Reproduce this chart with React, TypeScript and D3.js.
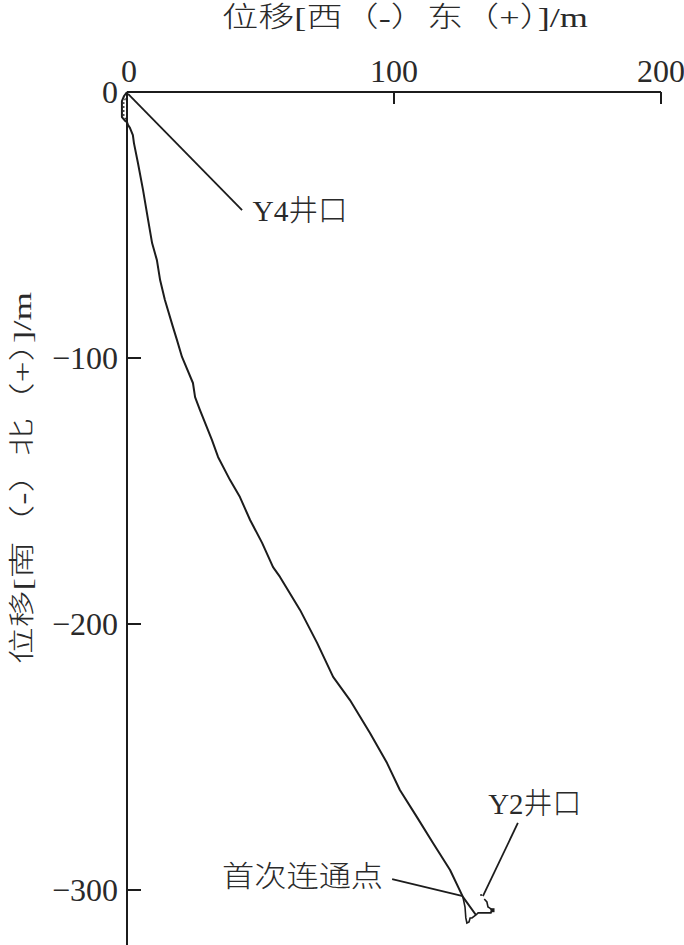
import React from 'react';
import * as d3 from 'd3';

// ---- data (E, N) in metres ----
const xTicks = [0, 100, 200];
const yTicks = [0, -100, -200, -300];

const mainTrack: [number, number][] = [
  [0, 0], [-1.1, -1.5], [-1.9, -3.4], [-1.9, -9.4], [-0.7, -10.9], [0, -11.3], [0.4, -12.4],
  [1.1, -13.5], [2.2, -16.2], [2.6, -19.2], [4.1, -26.7], [6.0, -36.8], [7.9, -48.1],
  [9.4, -56.8], [11.2, -63.2], [12.4, -70.7], [14.2, -78.2], [17.2, -88.3], [18.7, -93.2],
  [20.6, -99.6], [24.7, -109.4], [25.5, -114.7], [27.3, -119.5], [31.8, -130.8], [34.1, -137.2],
  [38.6, -145.9], [42.3, -152.3], [46.1, -160.9], [50.6, -169.5], [54.7, -178.6], [57.3, -182.3],
  [64.8, -194.7], [71.2, -207.1], [77.2, -219.9], [83.5, -228.6], [91.0, -241.0], [97.4, -252.3],
  [102.2, -262.4], [108.6, -272.6], [114.6, -282.3], [121.0, -292.5], [125.8, -302.6], [130.7, -309.4],
];

const innerLoop: [number, number][] = [
  [-0.6, -2.4], [-1.2, -4.0], [-1.2, -9.0], [-0.5, -10.3],
];

const y2Track: [number, number][] = [
  [133.8, -303.4], [134.8, -304.5], [135.2, -306.4], [135.9, -306.8], [136.7, -307.5],
  [136.3, -308.6], [131.5, -308.6], [130.7, -309.4], [129.2, -310.5], [128.5, -310.5],
  [128.1, -312.0], [127.3, -312.4], [126.9, -310.5], [126.6, -306.4], [125.8, -302.6],
];

const y2Dot: [number, number] = [132.6, -301.9];
const y2Blob: [number, number] = [136.9, -307.6];

const xTitle = '位移[西（-）东（+）]/m';
const yTitle = '位移[南（-）北（+）]/m';

// annotations: label, text anchor point, leader from, leader to
const notes = [
  { text: 'Y4井口', at: [47.0, -48.6], from: [43.1, -44.4], to: [0.4, -0.7], len: 95 },
  { text: 'Y2井口', at: [135.3, -271.3], from: [146.4, -274.8], to: [133.3, -302.3], len: 93 },
  { text: '首次连通点', at: [35.6, -298.7], from: [99.3, -295.9], to: [125.8, -302.3], len: 161 },
];

const W = 684;
const H = 945;
const FONT = "'Liberation Serif', 'Noto Sans CJK SC', serif";

export default function App() {
  const x = d3.scaleLinear().domain([0, 200]).range([127, 661]);
  const y = d3.scaleLinear().domain([0, -300]).range([92, 890]);
  const line = d3.line<[number, number]>().x(d => x(d[0])).y(d => y(d[1]));
  const ink = '#1c1c1c';
  const txt = '#2a2a2a';

  return (
    <svg width={W} height={H} style={{ position: 'absolute', left: 0, top: 0, background: '#fff' }}
      fontFamily={FONT} fontWeight={300}>
      {/* axes */}
      <line x1={x(0)} x2={x(200)} y1={y(0)} y2={y(0)} stroke={ink} strokeWidth={2} />
      <line x1={x(0)} x2={x(0)} y1={y(0)} y2={y(-322)} stroke={ink} strokeWidth={2} />
      {xTicks.filter(t => t !== 0).map(t => (
        <line key={'xt' + t} x1={x(t)} x2={x(t)} y1={y(0)} y2={y(0) + 12} stroke={ink} strokeWidth={2} />
      ))}
      {yTicks.filter(t => t !== 0).map(t => (
        <line key={'yt' + t} x1={x(0)} x2={x(0) + 14} y1={y(t)} y2={y(t)} stroke={ink} strokeWidth={2} />
      ))}
      {xTicks.map(t => (
        <text key={'xl' + t} x={x(t) + (t === 0 ? 2 : 0)} y={y(0) - 10} fontSize={32} textAnchor="middle" fill={txt}>{t}</text>
      ))}
      {yTicks.map(t => (
        <text key={'yl' + t} x={x(0) - 9} y={y(t) + 11} fontSize={32} textAnchor="end" fill={txt}>
          {t < 0 ? '\u2212' + Math.abs(t) : t}
        </text>
      ))}
      {/* titles */}
      <text x={222} y={27} fontSize={28} textLength={366} lengthAdjust="spacingAndGlyphs" fill={txt}>{xTitle}</text>
      <text transform="translate(31,478) rotate(-90)" fontSize={26} textAnchor="middle" textLength={372}
        lengthAdjust="spacingAndGlyphs" fill={txt}>{yTitle}</text>

      {/* tracks */}
      <path d={line(mainTrack) || ''} fill="none" stroke={ink} strokeWidth={2} strokeLinejoin="round" />
      <path d={line(innerLoop) || ''} fill="none" stroke={ink} strokeWidth={1.2} strokeDasharray="2,2" />
      <path d={line(y2Track) || ''} fill="none" stroke={ink} strokeWidth={1.6} />
      <circle cx={x(y2Dot[0])} cy={y(y2Dot[1])} r={1} fill={ink} />
      <rect x={x(y2Blob[0]) - 2} y={y(y2Blob[1]) - 2} width={4} height={4} fill={ink} />

      {/* annotations */}
      {notes.map(n => (
        <g key={n.text}>
          <line x1={x(n.from[0])} y1={y(n.from[1])} x2={x(n.to[0])} y2={y(n.to[1])} stroke={ink} strokeWidth={1.8} />
          <text x={x(n.at[0])} y={y(n.at[1])} fontSize={29} textLength={n.len} lengthAdjust="spacingAndGlyphs" fill={txt}>{n.text}</text>
        </g>
      ))}
    </svg>
  );
}
